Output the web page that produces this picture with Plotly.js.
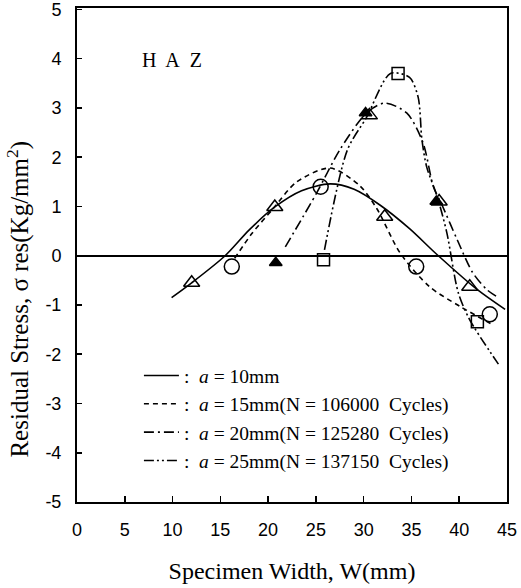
<!DOCTYPE html>
<html>
<head>
<meta charset="utf-8">
<script src="https://cdn.plot.ly/plotly-3.0.1.min.js"></script>
<style>html,body{margin:0;padding:0;background:#fff;}#chart{width:521px;height:588px;}</style>
</head>
<body>
<div id="chart"></div>
<script>
// ---- Curve data (fitted lines) ----
const a10X = [9.9, 12.0, 15.5, 18.0, 20.7, 23.5, 26.5, 29.0, 31.7, 34.8, 37.7, 41.9, 44.8];
const a10Y = [-0.85, -0.55, 0.0, 0.52, 0.99, 1.32, 1.46, 1.35, 1.03, 0.55, 0.02, -0.69, -1.09];

const a15X = [16.5, 18.3, 20.5, 23.0, 26.5, 29.6, 31.4, 33.8, 36.9, 40.1, 43.5];
const a15Y = [-0.05, 0.45, 0.95, 1.5, 1.78, 1.42, 0.95, 0.06, -0.63, -1.03, -1.4];

const a20X = [21.8, 25.1, 27.5, 30.3, 32.2, 34.5, 36.2, 37.3, 38.2, 39.8, 41.4, 42.9, 44.1];
const a20Y = [0.18, 1.28, 2.15, 2.9, 3.1, 2.9, 2.3, 1.4, 1.03, 0.32, -0.34, -0.69, -0.85];

const a25X = [25.9, 28.3, 30.3, 32.8, 34.8, 35.7, 36.1, 36.6, 37.7, 38.7, 39.9, 41.1, 44.1];
const a25Y = [0.12, 2.15, 2.81, 3.7, 3.62, 3.22, 2.35, 1.8, 1.2, 0.47, -0.75, -1.3, -2.2];

// ---- Measured points (markers) ----
const circleX = [16.2, 25.5, 35.5, 43.2];
const circleY = [-0.22, 1.40, -0.22, -1.19];

const openTriX = [12.0, 20.7, 32.2, 41.1, 30.6, 37.9];
const openTriY = [-0.55, 0.99, 0.79, -0.63, 2.85, 1.10];

const filledTriX = [20.8, 30.2, 37.6];
const filledTriY = [-0.14, 2.9, 1.1];

const squareX = [25.8, 33.6, 41.9];
const squareY = [-0.08, 3.70, -1.34];

// ---- Labels ----
const legendNames = [
  ":\u00a0 <i>a</i> = 10mm",
  ":\u00a0 <i>a</i> = 15mm(N = 106000\u00a0 Cycles)",
  ":\u00a0 <i>a</i> = 20mm(N = 125280\u00a0 Cycles)",
  ":\u00a0 <i>a</i> = 25mm(N = 137150\u00a0 Cycles)"
];
const xTitle = "Specimen Width, W(mm)";
const yTitle = "Residual Stress, σ res(Kg/mm<sup>2</sup>)";
const xTickVals = [0, 5, 10, 15, 20, 25, 30, 35, 40, 45];
const xTickText = ["0", "5", "10", "15", "20", "25", "30", "35", "40", "45"];
const yTickVals = [-5, -4, -3, -2, -1, 0, 1, 2, 3, 4, 5];
const yTickText = ["-5", "-4", "-3", "-2", "-1", "0", "1", "2", "3", "4", "5"];

const serif = "Liberation Serif, Times New Roman, serif";
const sans = "Liberation Sans, Arial, sans-serif";

function curve(x, y, name, dash) {
  return {x: x, y: y, name: name, mode: "lines", type: "scatter",
    line: {color: "#000", width: 1.6, dash: dash, shape: "spline", smoothing: 0.8},
    hoverinfo: "skip"};
}
function marks(x, y, sym, size, fill) {
  return {x: x, y: y, mode: "markers", type: "scatter", showlegend: false,
    marker: {symbol: sym, size: size, color: fill, line: {color: "#000", width: 1.5}},
    hoverinfo: "skip"};
}

const traces = [
  curve(a10X, a10Y, legendNames[0], "solid"),
  curve(a15X, a15Y, legendNames[1], "5px,4px"),
  curve(a20X, a20Y, legendNames[2], "10px,4px,2px,4px"),
  curve(a25X, a25Y, legendNames[3], "10px,3px,2px,3px,2px,3px"),
  marks(circleX, circleY, "circle-open", 15, "#000"),
  marks(openTriX, openTriY, "triangle-up", 14, "rgba(255,255,255,0)"),
  marks(filledTriX, filledTriY, "triangle-up", 11, "#000"),
  marks(squareX, squareY, "square-open", 12, "#000")
];

const layout = {
  width: 521, height: 588,
  margin: {l: 77, r: 14, t: 8, b: 86},
  paper_bgcolor: "#fff", plot_bgcolor: "#fff",
  showlegend: true,
  legend: {x: 0.144, y: 0.295, xanchor: "left", yanchor: "top",
    bgcolor: "rgba(0,0,0,0)", font: {family: serif, size: 19.5, color: "#000"},
    itemwidth: 35, tracegroupgap: 0},
  xaxis: {range: [0, 45], tickvals: xTickVals, ticktext: xTickText,
    ticks: "inside", ticklen: 6, tickwidth: 1.5, tickcolor: "#000",
    showline: true, linecolor: "#000", linewidth: 2, mirror: true,
    showgrid: false, zeroline: false, ticklabelstandoff: 10,
    ticklabeloverflow: "allow",
    tickfont: {family: sans, size: 18, color: "#000"},
    title: {text: xTitle, standoff: 24, font: {family: serif, size: 24, color: "#000"}}},
  yaxis: {range: [-5, 5.03], tickvals: yTickVals, ticktext: yTickText,
    ticks: "inside", ticklen: 5, tickwidth: 1.5, tickcolor: "#000",
    showline: true, linecolor: "#000", linewidth: 2, mirror: true,
    showgrid: false, zeroline: true, zerolinecolor: "#000", zerolinewidth: 2,
    ticklabelstandoff: 10, ticklabeloverflow: "allow",
    tickfont: {family: sans, size: 18, color: "#000"}},
  annotations: [
    {text: "H\u00a0 A\u00a0 Z", x: 9.9, y: 3.98, xref: "x", yref: "y",
     showarrow: false, font: {family: serif, size: 20, color: "#000"}},
    {text: yTitle, x: -0.137, y: 0.41,
     xref: "paper", yref: "paper", xanchor: "center", yanchor: "middle",
     textangle: -90, showarrow: false,
     font: {family: serif, size: 25, color: "#000"}}
  ]
};

Plotly.newPlot("chart", traces, layout, {displayModeBar: false, staticPlot: true});
</script>
</body>
</html>
